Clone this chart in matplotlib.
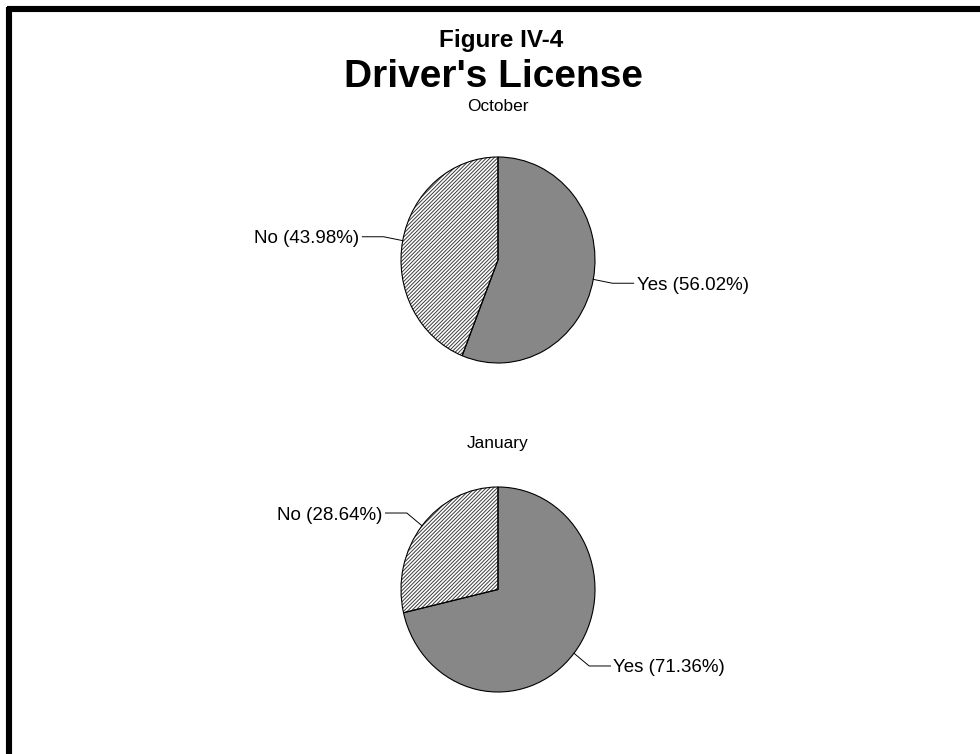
import matplotlib.pyplot as plt
import numpy as np
from matplotlib.lines import Line2D

plt.rcParams['font.family'] = ['Liberation Sans', 'DejaVu Sans']
plt.rcParams['hatch.linewidth'] = 0.7

# Data
months = ['October', 'January']
categories = ['Yes', 'No']
oct_values = [56.02, 43.98]
jan_values = [71.36, 28.64]
all_values = [oct_values, jan_values]

yes_color = '#878787'
no_hatch_color = '#3c3c3c'

fig = plt.figure(figsize=(9.8, 7.54), dpi=100)

# Thick frame lines along the top and left edges
fig.add_artist(Line2D([6.5 / 980, 1.0], [1 - 9 / 754, 1 - 9 / 754], color='black', lw=4.4,
                      solid_capstyle='butt', transform=fig.transFigure))
fig.add_artist(Line2D([9 / 980, 9 / 980], [0.0, 1 - 6.5 / 754], color='black', lw=4.4,
                      solid_capstyle='butt', transform=fig.transFigure))

# Titles
fig.text(501 / 980, 1 - 46.7 / 754, 'Figure IV-4', ha='center', va='baseline',
         fontsize=17.5, fontweight='bold')
fig.text(493 / 980, 1 - 87.3 / 754, "Driver's License", ha='center', va='baseline',
         fontsize=28, fontweight='bold')

# Pie axes positions (left, bottom, width, height) in figure fractions
positions = [[401 / 980, 1 - 363 / 754, 194 / 980, 206 / 754],
             [401 / 980, 1 - 692 / 754, 194 / 980, 205 / 754]]
subtitle_y = [1 - 110.7 / 754, 1 - 448.3 / 754]

for month, values, pos, sy in zip(months, all_values, positions, subtitle_y):
    fig.text(498 / 980, sy, month, ha='center', va='baseline', fontsize=12.4)

    ax = fig.add_axes(pos)
    # filled layer (hatch colour follows edge colour)
    wedges, _ = ax.pie(values, startangle=90, counterclock=False,
                       colors=[yes_color, 'white'],
                       wedgeprops={'linewidth': 0, 'clip_on': False})
    wedges[1].set_hatch('/////////')
    wedges[1].set_edgecolor(no_hatch_color)
    # outline layer
    outline, _ = ax.pie(values, startangle=90, counterclock=False,
                        colors=['none', 'none'],
                        wedgeprops={'linewidth': 0.8, 'edgecolor': 'black', 'clip_on': False})
    ax.set_aspect('auto')
    ax.set_xlim(-1, 1)
    ax.set_ylim(-1, 1)
    ax.axis('off')

    # Labels with elbow leader lines
    for w, cat, val in zip(wedges, categories, values):
        ang = np.deg2rad((w.theta1 + w.theta2) / 2)
        c, s = np.cos(ang), np.sin(ang)
        side = 1 if c >= 0 else -1
        x0, y0 = c, s
        x1, y1 = 1.2 * c, 1.2 * s
        x2 = x1 + side * 0.22
        ax.plot([x0, x1, x2], [y0, y1, y1], color='black', lw=0.7, clip_on=False)
        ax.text(x2 + side * 0.03, y1, f'{cat} ({val:.2f}%)',
                ha='left' if side > 0 else 'right', va='center_baseline', fontsize=13.5,
                clip_on=False)

fig.savefig('out.png', dpi=100)
